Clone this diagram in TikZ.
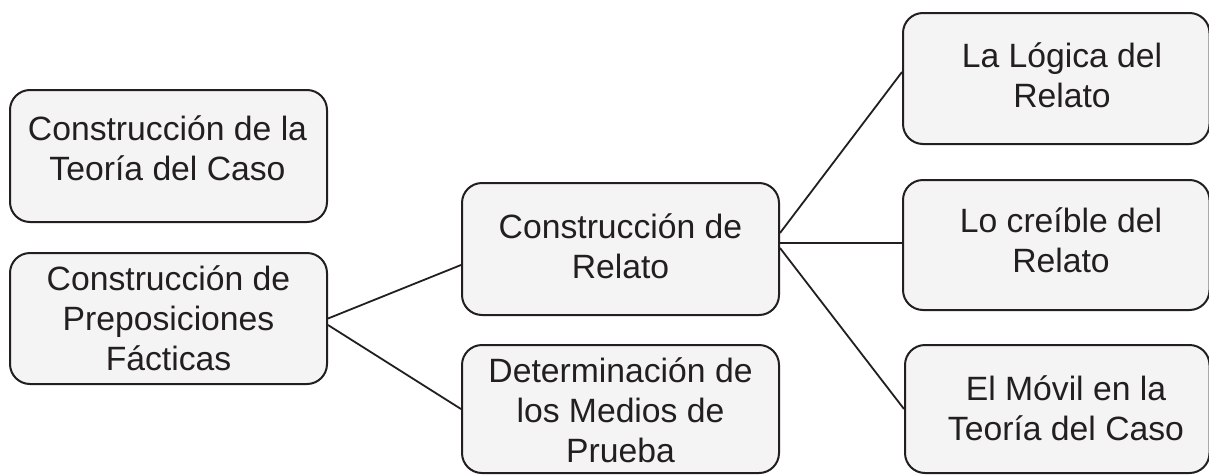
\documentclass[tikz,border=0pt]{standalone}
\usepackage{fontspec}
\setmainfont{Liberation Sans}
\definecolor{ink}{HTML}{231F20}
\definecolor{boxfill}{HTML}{F4F4F4}
\begin{document}
\begin{tikzpicture}[x=1pt,y=-1pt,
  box/.style={draw=ink,fill=boxfill,line width=2pt,rounded corners=20pt,inner sep=0pt},
  txt/.style={align=center,text=ink,inner sep=0pt,font=\fontsize{33.7}{40}\selectfont},
  link/.style={draw=ink,line width=1.8pt}]
\useasboundingbox (0,0) rectangle (1209,474);
\fill[white] (0,0) rectangle (1209,474);
% boxes
\node[box,minimum width=317pt,minimum height=132pt] (A) at (168.5,156) {};
\node[box,minimum width=317pt,minimum height=131pt] (B) at (168.5,318.5) {};
\node[box,minimum width=317pt,minimum height=132pt] (C) at (620.5,249) {};
\node[box,minimum width=317pt,minimum height=128pt] (D) at (620.5,409) {};
\node[box,minimum width=306.5pt,minimum height=131pt] (E) at (1056.25,78.5) {};
\node[box,minimum width=306.5pt,minimum height=130pt] (F) at (1056.25,245) {};
\node[box,minimum width=304.5pt,minimum height=128pt] (G) at (1057.25,409) {};
% texts
\node[txt] (tA) at (167.5,148) {Construcción de la\\Teoría del Caso};
\node[txt] (tB) at (168.5,318) {Construcción de\\Preposiciones\\Fácticas};
\node[txt] (tC) at (620.5,246) {Construcción de\\Relato};
\node[txt] (tD) at (620.5,410) {Determinación de\\los Medios de\\Prueba};
\node[txt] (tE) at (1062,75) {La Lógica del\\Relato};
\node[txt] (tF) at (1061,240) {Lo creíble del\\Relato};
\node[txt] (tG) at (1066,408) {El Móvil en la\\Teoría del Caso};
% connectors
\draw[link] (B.east) -- ([yshift=-16pt]C.west);
\draw[link] ([yshift=-6.5pt]B.east) -- (D.west);
\draw[link] ([yshift=16pt]C.east) -- ([yshift=6.5pt]E.west);
\draw[link] ([yshift=6pt]C.east) -- ([yshift=2pt]F.west);
\draw[link] ([yshift=1pt]C.east) -- (G.west);
\end{tikzpicture}
\end{document}
